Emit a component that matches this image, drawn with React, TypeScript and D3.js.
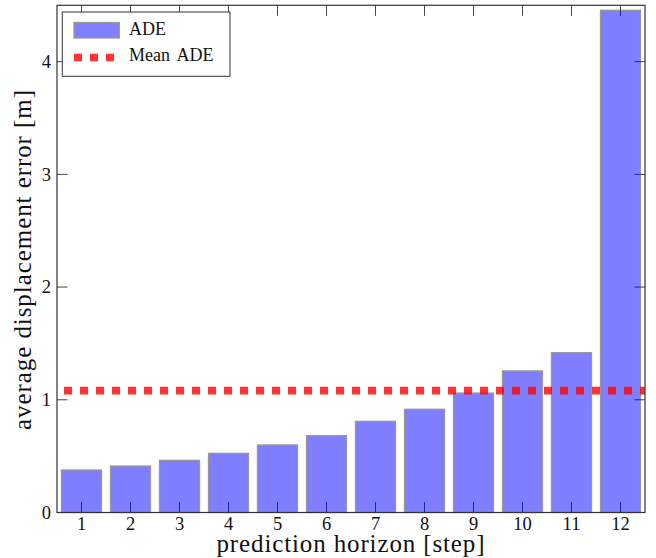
import React from 'react';
import * as d3 from 'd3';

// prediction horizon steps and ADE per step [m]
const steps = [1, 2, 3, 4, 5, 6, 7, 8, 9, 10, 11, 12];
const ade = [0.377, 0.412, 0.463, 0.525, 0.599, 0.682, 0.809, 0.916, 1.06, 1.256, 1.418, 4.456];
const yTicks = [0, 1, 2, 3, 4];

const W = 656;
const H = 558;
const margin = { top: 5.3, right: 11, bottom: 45.5, left: 57 };
const font = "'Liberation Serif', 'Times New Roman', Tinos, 'DejaVu Serif', 'Noto Serif', serif";

const App = () => {
  const meanAde = d3.mean(ade) ?? 0;

  const x = d3.scaleLinear().domain([0.5, 12.5]).range([margin.left, W - margin.right]);
  const y = d3.scaleLinear().domain([0, 4.5]).range([H - margin.bottom, margin.top]);

  const [x0, x1] = x.range();
  const [y0, y1] = y.range();
  const barW = (x(1) - x(0)) * 0.816;
  const tickLen = 10.5;

  return (
    <svg width={W} height={H} style={{ position: 'absolute', left: 0, top: 0, fontFamily: font }}>
      {/* inward ticks, drawn under the bars */}
      <g stroke="#444" strokeWidth={1}>
        {steps.map((s) => (
          <g key={s}>
            <line x1={x(s)} x2={x(s)} y1={y0} y2={y0 - tickLen} />
            <line x1={x(s)} x2={x(s)} y1={y1} y2={y1 + tickLen} />
          </g>
        ))}
        {yTicks.map((t) => (
          <g key={t}>
            <line x1={x0} x2={x0 + tickLen} y1={y(t)} y2={y(t)} />
            <line x1={x1} x2={x1 - tickLen} y1={y(t)} y2={y(t)} />
          </g>
        ))}
      </g>

      {/* bars */}
      <g opacity={0.5}>
        {steps.map((s, i) => (
          <rect
            key={s}
            x={x(s) - barW / 2}
            y={y(ade[i])}
            width={barW}
            height={y(0) - y(ade[i])}
            fill="blue"
            stroke="#333"
            strokeWidth={1.3}
          />
        ))}
      </g>

      {/* mean line */}
      <line
        x1={x0}
        x2={x1}
        y1={y(meanAde)}
        y2={y(meanAde)}
        stroke="red"
        strokeOpacity={0.8}
        strokeWidth={7.6}
        strokeDasharray="8 8"
        strokeDashoffset={9}
      />

      {/* frame */}
      <rect x={x0} y={y1} width={x1 - x0} height={y0 - y1} fill="none" stroke="#333" strokeWidth={1.2} />

      {/* tick labels */}
      <g fontSize={18.5} fill="#111">
        {steps.map((s) => (
          <text key={s} x={x(s)} y={y0 + 17.5} textAnchor="middle">
            {s}
          </text>
        ))}
        {yTicks.map((t) => (
          <text key={t} x={x0 - 6} y={y(t)} dy="0.34em" textAnchor="end">
            {t}
          </text>
        ))}
      </g>

      {/* axis titles */}
      <text
        x={(x0 + x1) / 2 - 0.5}
        y={551.8}
        textAnchor="middle"
        fontSize={25}
        fill="#111"
        textLength={268}
        lengthAdjust="spacing"
      >
        prediction horizon [step]
      </text>
      <text
        transform={`translate(31,260) rotate(-90)`}
        textAnchor="middle"
        fontSize={25}
        fill="#111"
        textLength={340}
        lengthAdjust="spacing"
      >
        average displacement error [m]
      </text>

      {/* legend */}
      <g>
        <rect x={62.3} y={12} width={167.7} height={64.3} fill="white" stroke="#333" strokeWidth={1} />
        <rect x={74} y={22.5} width={45.3} height={15.5} fill="#8080ff" stroke="#999" strokeWidth={1.3} />
        <text x={129} y={35.3} fontSize={18} fill="#111">ADE</text>
        <line
          x1={74}
          x2={114.5}
          y1={57.5}
          y2={57.5}
          stroke="red"
          strokeOpacity={0.8}
          strokeWidth={7.6}
          strokeDasharray="8 8"
        />
        <text x={129} y={61.3} fontSize={18} fill="#111" wordSpacing={3}>Mean ADE</text>
      </g>
    </svg>
  );
};

export default App;
